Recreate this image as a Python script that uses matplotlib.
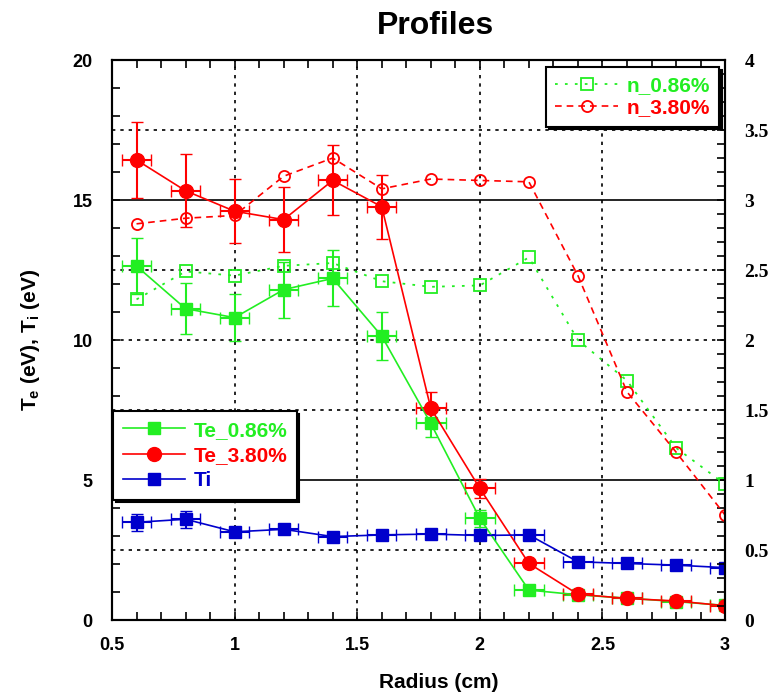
import numpy as np
import matplotlib
matplotlib.use("Agg")
import matplotlib.pyplot as plt
from matplotlib.ticker import MultipleLocator, FormatStrFormatter

plt.rcParams["mathtext.fontset"] = "custom"
plt.rcParams["mathtext.bf"] = "Liberation Sans:bold"
plt.rcParams["mathtext.rm"] = "Liberation Sans:bold"
plt.rcParams["mathtext.default"] = "bf"

# -----------------------------
# data
# -----------------------------
radius = [0.6, 0.8, 1.0, 1.2, 1.4, 1.6, 1.8, 2.0, 2.2, 2.4, 2.6, 2.8, 3.0]

te_086 = [12.64, 11.12, 10.8, 11.8, 12.2, 10.14, 7.02, 3.63, 1.07, 0.9, 0.78, 0.66, 0.52]
te_086_err = [1.0, 0.9, 0.85, 1.0, 1.0, 0.85, 0.5, 0.3, 0.0, 0.0, 0.0, 0.0, 0.0]

te_380 = [16.43, 15.33, 14.6, 14.3, 15.7, 14.76, 7.56, 4.7, 2.02, 0.92, 0.77, 0.68, 0.51]
te_380_err = [1.35, 1.3, 1.15, 1.15, 1.25, 1.15, 0.6, 0.35, 0.0, 0.0, 0.0, 0.0, 0.0]

ti = [3.49, 3.6, 3.15, 3.24, 2.98, 3.04, 3.07, 3.02, 3.04, 2.08, 2.02, 1.96, 1.87]
ti_err = [0.3, 0.3, 0.1, 0.1, 0.05, 0.05, 0.05, 0.05, 0.05, 0.0, 0.0, 0.0, 0.0]

radius_err = 0.06

n_086 = [2.29, 2.49, 2.46, 2.53, 2.55, 2.42, 2.38, 2.39, 2.59, 2.0, 1.71, 1.23, 0.97]
n_380 = [2.83, 2.87, 2.89, 3.17, 3.30, 3.08, 3.15, 3.14, 3.13, 2.46, 1.63, 1.20, 0.75]

green = "#22ee22"
red = "#ff0000"
blue = "#0000cc"

fig = plt.figure(figsize=(7.73, 6.94), dpi=100)
ax = fig.add_axes([0.1449, 0.1066, 0.7931, 0.8069])
ax2 = ax.twinx()

# grid lines
for y in [5, 15]:
    ax.axhline(y, color="black", lw=1.2, zorder=0)
for y in [2.5, 7.5, 10, 12.5, 17.5]:
    ax.axhline(y, color="black", lw=1.2, ls=(0, (2, 3)), zorder=0)
for x in [1.0, 1.5, 2.0, 2.5]:
    ax.axvline(x, color="black", lw=1.2, ls=(0, (2, 3)), zorder=0)

# Te / Ti with error bars
eb_g = ax.errorbar(radius, te_086, yerr=te_086_err, xerr=radius_err, color=green,
                   marker="s", ms=9, lw=1.2, elinewidth=1.5, capsize=4, label="Te_0.86%")
eb_r = ax.errorbar(radius, te_380, yerr=te_380_err, xerr=radius_err, color=red,
                   marker="o", ms=10, lw=1.2, elinewidth=1.5, capsize=4, label="Te_3.80%")
eb_b = ax.errorbar(radius, ti, yerr=ti_err, xerr=radius_err, color=blue,
                   marker="s", ms=9, lw=1.2, elinewidth=1.5, capsize=4, label="Ti")

# density on right axis
l_n1, = ax2.plot(radius, n_086, color=green, ls=(0, (1.5, 4)), lw=1.3, marker="s",
                 ms=8, mfc="none", mew=1.3, label="n_0.86%")
l_n2, = ax2.plot(radius, n_380, color=red, ls=(0, (4, 3)), lw=1.2, marker="o",
                 ms=8, mfc="none", mew=1.3, label="n_3.80%")

ax.set_xlim(0.5, 3.0)
ax.set_ylim(0, 20)
ax2.set_ylim(0, 4)

ax.xaxis.set_major_locator(MultipleLocator(0.5))
ax.xaxis.set_minor_locator(MultipleLocator(0.1))
ax.yaxis.set_major_locator(MultipleLocator(5))
ax.yaxis.set_minor_locator(MultipleLocator(1))
ax2.yaxis.set_major_locator(MultipleLocator(0.5))
ax2.yaxis.set_minor_locator(MultipleLocator(0.1))
ax.xaxis.set_major_formatter(FormatStrFormatter("%g"))
ax.yaxis.set_major_formatter(FormatStrFormatter("%g"))
ax2.yaxis.set_major_formatter(FormatStrFormatter("%g"))

ax.tick_params(axis="both", which="both", direction="in", length=6, width=1.2,
               top=True, right=False)
ax.tick_params(axis="y", pad=14)
ax.tick_params(axis="x", pad=12)
ax2.tick_params(axis="y", which="both", direction="in", length=6, width=1.2, pad=14)

for lab in ax.get_yticklabels():
    lab.set_fontfamily("Liberation Sans")
    lab.set_fontweight("bold")
    lab.set_fontsize(13)
for lab in ax.get_xticklabels():
    lab.set_fontfamily("Liberation Sans")
    lab.set_fontweight("bold")
    lab.set_fontsize(13)
for lab in ax2.get_yticklabels():
    lab.set_fontfamily("Liberation Serif")
    lab.set_fontweight("bold")
    lab.set_fontsize(14)

for sp in list(ax.spines.values()) + list(ax2.spines.values()):
    sp.set_linewidth(1.5)

fig.text(0.564, 0.963, "Profiles", ha="center", va="center",
         fontsize=23, fontweight="bold", family="Liberation Sans")
fig.text(0.567, 0.016, "Radius (cm)", ha="center", va="center",
         fontsize=15, fontweight="bold", family="Liberation Sans")
fig.text(0.04, 0.51, r"T$_e$ (eV), T$_i$ (eV)", ha="center", va="center",
         rotation=90, fontsize=15, fontweight="bold", family="Liberation Sans")

# legends
shadow = {"color": "black", "alpha": 1.0}
leg1 = ax2.legend([eb_g[0], eb_r[0], eb_b[0]], ["Te_0.86%", "Te_3.80%", "Ti"],
                  loc="lower left", bbox_to_anchor=(0.002, 0.215), borderaxespad=0,
                  fancybox=False, shadow=shadow, edgecolor="black", framealpha=1,
                  labelcolor="linecolor", handlelength=3, handletextpad=0.4,
                  labelspacing=0.3, borderpad=0.45, numpoints=1,
                  prop={"family": "Liberation Sans", "weight": "bold", "size": 15})
leg1.get_frame().set_linewidth(1.5)
ax2.add_artist(leg1)
leg2 = ax2.legend([l_n1, l_n2], ["n_0.86%", "n_3.80%"],
                  loc="upper right", bbox_to_anchor=(0.99, 0.988), borderaxespad=0,
                  fancybox=False, shadow=shadow, edgecolor="black", framealpha=1,
                  labelcolor="linecolor", handlelength=3, handletextpad=0.4,
                  labelspacing=0.15, borderpad=0.45, numpoints=1,
                  prop={"family": "Liberation Sans", "weight": "bold", "size": 15})
leg2.get_frame().set_linewidth(1.5)

fig.savefig("out.png", dpi=100)
